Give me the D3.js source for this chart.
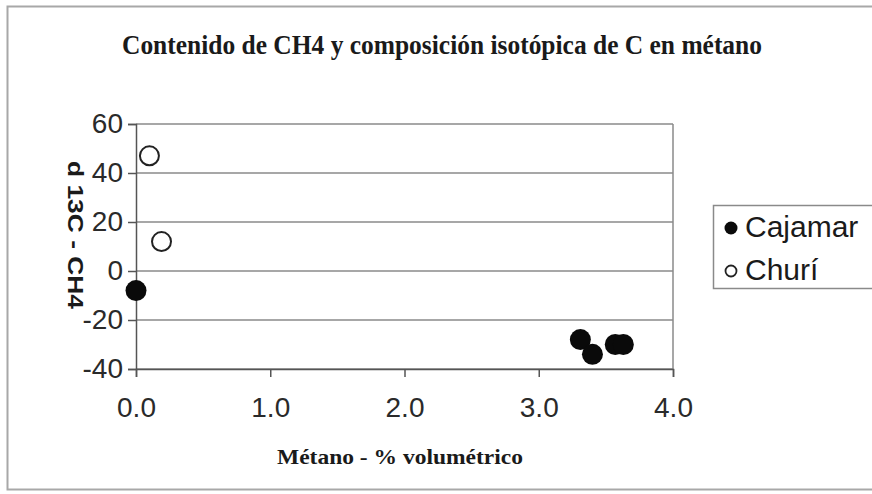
<!DOCTYPE html>
<html>
<head>
<meta charset="utf-8">
<script src="https://cdn.jsdelivr.net/npm/d3@7"></script>
<style>
  html, body { margin: 0; padding: 0; background: #fff; }
  svg { display: block; }
</style>
</head>
<body>
<svg id="chart" width="872" height="494"></svg>
<script>
// Methane content (% by volume) and δ13C of CH4 for two sites
const cajamarX = [0.0, 3.31, 3.40, 3.57, 3.63];
const cajamarY = [-8, -28, -34, -30, -30];
const churiX = [0.10, 0.19];
const churiY = [47, 12];
const xTicks = [0, 1, 2, 3, 4];
const yTicks = [-40, -20, 0, 20, 40, 60];
const seriesNames = ["Cajamar", "Churí"];

const svg = d3.select("#chart");
const W = 872, H = 494;
const plot = { left: 136, right: 673, top: 124, bottom: 369 };

// outer chart frame
svg.append("rect")
  .attr("x", 7.5).attr("y", 6.5)
  .attr("width", W + 10).attr("height", 483)
  .attr("fill", "#fff").attr("stroke", "#a8a8a8").attr("stroke-width", 2);

const x = d3.scaleLinear().domain([0, 4]).range([plot.left, plot.right]);
const y = d3.scaleLinear().domain([-40, 60]).range([plot.bottom, plot.top]);

// horizontal gridlines
svg.append("g").selectAll("line").data(yTicks).join("line")
  .attr("x1", plot.left).attr("x2", plot.right)
  .attr("y1", d => y(d)).attr("y2", d => y(d))
  .attr("stroke", "#8a8a8a").attr("stroke-width", 1.5);

// plot-area right edge
svg.append("line")
  .attr("x1", plot.right).attr("x2", plot.right)
  .attr("y1", plot.top).attr("y2", plot.bottom)
  .attr("stroke", "#8a8a8a").attr("stroke-width", 1.5);

const tickFont = "Liberation Sans, Arial, sans-serif";

// y axis (plain hyphen for negatives)
const yAxis = svg.append("g")
  .attr("transform", `translate(${plot.left},0)`)
  .call(d3.axisLeft(y).tickValues(yTicks).tickSize(8).tickPadding(5).tickFormat(d => String(d)));
yAxis.select(".domain").attr("stroke", "#555").attr("stroke-width", 1.5);
yAxis.selectAll(".tick line").attr("stroke", "#555").attr("stroke-width", 1.5);
yAxis.selectAll(".tick text")
  .attr("font-family", tickFont)
  .attr("font-size", 28).attr("fill", "#2a2a2a");

// x axis
const xAxis = svg.append("g")
  .attr("transform", `translate(0,${plot.bottom})`)
  .call(d3.axisBottom(x).tickValues(xTicks).tickSize(8).tickPadding(20).tickFormat(d3.format(".1f")));
xAxis.select(".domain").attr("stroke", "#555").attr("stroke-width", 1.5);
xAxis.selectAll(".tick line").attr("stroke", "#555").attr("stroke-width", 1.5);
xAxis.selectAll(".tick text")
  .attr("font-family", tickFont)
  .attr("font-size", 28).attr("fill", "#2a2a2a");

// data points
const cajamar = cajamarX.map((v, i) => ({ x: v, y: cajamarY[i] }));
const churi = churiX.map((v, i) => ({ x: v, y: churiY[i] }));

svg.append("g").selectAll("circle").data(churi).join("circle")
  .attr("cx", d => x(d.x)).attr("cy", d => y(d.y)).attr("r", 9.5)
  .attr("fill", "#fff").attr("stroke", "#222").attr("stroke-width", 2);

svg.append("g").selectAll("circle").data(cajamar).join("circle")
  .attr("cx", d => x(d.x)).attr("cy", d => y(d.y)).attr("r", 10.5)
  .attr("fill", "#0a0a0a");

// title
svg.append("text")
  .attr("x", 442).attr("y", 54)
  .attr("text-anchor", "middle")
  .attr("font-family", "Liberation Serif, Times New Roman, serif")
  .attr("font-weight", "bold").attr("font-size", 28).attr("fill", "#1a1a1a")
  .attr("textLength", 640).attr("lengthAdjust", "spacingAndGlyphs")
  .text("Contenido de CH4 y composición isotópica de C en métano");

// x axis title
svg.append("text")
  .attr("x", 400).attr("y", 464)
  .attr("text-anchor", "middle")
  .attr("font-family", "Liberation Serif, Times New Roman, serif")
  .attr("font-weight", "bold").attr("font-size", 21).attr("fill", "#1a1a1a")
  .attr("textLength", 246).attr("lengthAdjust", "spacingAndGlyphs")
  .text("Métano - % volumétrico");

// y axis title, reading top to bottom
svg.append("text")
  .attr("transform", "translate(68,235) rotate(90)")
  .attr("text-anchor", "middle")
  .attr("font-family", "Liberation Sans, Arial, sans-serif")
  .attr("font-weight", "bold").attr("font-size", 22).attr("fill", "#1a1a1a")
  .attr("textLength", 148).attr("lengthAdjust", "spacingAndGlyphs")
  .text("d 13C - CH4");

// legend
const legend = svg.append("g");
legend.append("rect")
  .attr("x", 713.5).attr("y", 205.5).attr("width", 180).attr("height", 83)
  .attr("fill", "#fff").attr("stroke", "#8a8a8a").attr("stroke-width", 1.5);

const legendRows = [
  { name: seriesNames[0], filled: true, cy: 228 },
  { name: seriesNames[1], filled: false, cy: 271 }
];
legendRows.forEach(r => {
  legend.append("circle")
    .attr("cx", 731).attr("cy", r.cy).attr("r", r.filled ? 6.5 : 5.5)
    .attr("fill", r.filled ? "#0a0a0a" : "#fff")
    .attr("stroke", r.filled ? "none" : "#222").attr("stroke-width", 1.8);
  legend.append("text")
    .attr("x", 745).attr("y", r.cy + 9)
    .attr("font-family", "Liberation Sans, Arial, sans-serif")
    .attr("font-size", 30).attr("fill", "#1a1a1a")
    .text(r.name);
});
</script>
</body>
</html>
